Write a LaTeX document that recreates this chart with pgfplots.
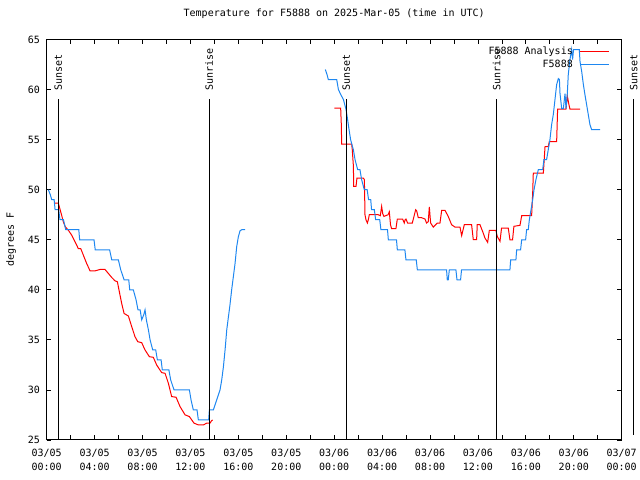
\documentclass[border=0pt]{standalone}
\usepackage{fontspec}
\setmainfont{DejaVu Sans Mono}
\usepackage{pgfplots}
\pgfplotsset{compat=1.18}
\definecolor{obsblue}{RGB}{30,135,240}
\definecolor{anared}{RGB}{255,0,0}
\begin{document}
\begin{tikzpicture}
\path[use as bounding box] (-46.7bp,-40bp) rectangle (593.3bp,440bp);
\begin{axis}[
  at={(0,0)}, anchor=south west,
  scale only axis, width=575bp, height=400.5bp,
  xmin=0, xmax=48, ymin=25, ymax=65,
  clip=false,
  unbounded coords=jump,
  xtick={0,4,...,48},
  minor xtick={2,6,...,46},
  ytick={25,30,...,65},
  xticklabels={{03/05\\00:00},{03/05\\04:00},{03/05\\08:00},{03/05\\12:00},{03/05\\16:00},{03/05\\20:00},{03/06\\00:00},{03/06\\04:00},{03/06\\08:00},{03/06\\12:00},{03/06\\16:00},{03/06\\20:00},{03/07\\00:00}},
  tick align=inside,
  major tick length=4.5bp, minor tick length=4.5bp,
  every tick/.style={black, line width=0.8bp},
  axis line style={black, line width=1bp},
  font=\fontsize{10bp}{13.5bp}\selectfont,
  /pgf/number format/assume math mode=true,
  xticklabel style={align=center, yshift=-6bp, font=\fontsize{10bp}{13.5bp}\selectfont},
  yticklabel style={xshift=-3.3bp, font=\fontsize{10bp}{13.5bp}\selectfont},
  title={Temperature for F5888 on 2025-Mar-05 (time in UTC)},
  title style={at={(axis description cs:0.5,1)}, anchor=center, yshift=19.5bp, inner sep=0pt, font=\fontsize{10bp}{12bp}\selectfont},
  ylabel={degrees F},
  ylabel style={at={(axis description cs:-0.062,0.5)}, anchor=center, inner sep=0pt, font=\fontsize{10bp}{12bp}\selectfont},
  legend style={at={(axis description cs:1,1)}, anchor=north east, xshift=-11.7bp, yshift=-7.3bp,
    draw=none, fill=none, inner sep=0pt, row sep=3bp, column sep=7bp,
    nodes={inner sep=0pt, text height=7.5bp, text depth=2.5bp},
    font=\fontsize{10bp}{12bp}\selectfont},
  legend cell align=right,
  legend plot pos=right,
  legend image code/.code={\draw[#1] (0bp,0bp) -- (29bp,0bp);},
]
\addplot[anared, line width=1bp] coordinates {
(0.70,48.67) (0.97,48.67) (1.06,48.27) (1.25,47.44) (1.39,46.78) (1.56,46.28) (1.81,45.95) (2.09,45.45) (2.37,44.78) (2.64,44.12) (2.84,44.12) (3.06,43.46) (3.34,42.62) (3.62,41.89) (4.03,41.89) (4.45,42.03) (4.87,42.03) (5.15,41.63) (5.43,41.23) (5.70,40.90) (5.90,40.80) (6.12,39.47) (6.26,38.64) (6.46,37.64) (6.82,37.38) (7.10,36.31) (7.37,35.32) (7.60,34.82) (7.93,34.72) (8.21,33.99) (8.57,33.32) (8.90,33.26) (9.18,32.49) (9.60,31.73) (9.88,31.66) (10.16,30.66) (10.43,29.34) (10.80,29.27) (11.13,28.34) (11.55,27.51) (11.91,27.34) (12.30,26.68) (12.66,26.51) (13.08,26.51) (13.36,26.68) (13.63,26.68) (13.77,26.94) (13.86,27.0)
(20,nan)
(24.01,58.14) (24.54,58.14) (24.60,56.31) (24.62,54.55) (25.46,54.55) (25.51,53.98) (25.60,52.39) (25.63,50.33) (25.82,50.33) (25.90,51.16) (26.43,51.16) (26.52,51.0) (26.57,47.5) (26.65,47.0) (26.77,46.67) (26.85,47.0) (26.93,47.5) (27.68,47.5) (27.85,47.4) (27.96,48.33) (28.05,47.6) (28.15,47.33) (28.50,47.5) (28.60,47.8) (28.70,46.5) (28.79,46.1) (29.15,46.1) (29.27,47.07) (29.71,47.07) (29.85,46.67) (29.92,47.0) (29.99,47.07) (30.13,46.67) (30.52,46.67) (30.66,47.33) (30.80,48.0) (30.88,47.9) (31.02,47.2) (31.30,47.2) (31.58,47.07) (31.71,46.67) (31.85,46.8) (31.94,48.27) (32.05,46.67) (32.27,46.27) (32.61,46.67) (32.83,46.67) (32.97,47.93) (33.25,47.93) (33.52,47.33) (33.80,46.5) (34.08,46.27) (34.50,46.27) (34.64,45.41) (34.86,46.5) (35.47,46.5) (35.61,45.01) (35.89,45.01) (35.94,46.5) (36.17,46.5) (36.44,45.67) (36.58,45.18) (36.81,44.74) (36.95,45.94) (37.50,45.94) (37.61,45.34) (37.84,44.84) (37.97,46.17) (38.53,46.17) (38.67,45.0) (38.89,45.0) (39.00,46.34) (39.51,46.44) (39.65,47.40) (40.48,47.40) (40.57,49.67) (40.62,51.66) (41.46,51.66) (41.60,54.31) (41.87,54.31) (41.96,54.81) (42.57,54.81) (42.65,58.04) (43.35,58.04) (43.46,59.37) (43.57,58.64) (43.68,58.04) (44.52,58.04)
};
\addlegendentry{F5888 Analysis}
\addplot[obsblue, line width=1bp] coordinates {
(0.14,50) (0.30,49.5) (0.42,49) (0.62,49) (0.70,48) (1.00,48) (1.11,47) (1.40,47) (1.59,46) (2.68,46) (2.75,45) (3.95,45) (4.05,44) (5.25,44) (5.43,43) (5.98,43) (6.18,42) (6.46,41) (6.85,41) (6.93,40) (7.23,40) (7.46,39) (7.62,38) (7.80,38) (7.93,37) (8.10,37.5) (8.21,38) (8.32,37) (8.49,36) (8.63,35) (8.85,34) (9.10,34) (9.24,33) (9.55,33) (9.65,32) (10.20,32) (10.35,31) (10.63,30) (11.91,30) (12.05,29) (12.24,28) (12.55,28) (12.66,27) (13.52,27) (13.58,28) (13.91,28) (14.19,29) (14.47,30) (14.61,31) (14.75,32.3) (14.89,34) (15.03,36) (15.17,37.3) (15.30,38.5) (15.44,40) (15.58,41.3) (15.72,42.6) (15.86,44.3) (16.00,45.3) (16.14,45.9) (16.28,46) (16.56,46)
(20,nan)
(23.26,62) (23.40,61.5) (23.51,61) (24.21,61) (24.35,60) (24.55,59.5) (24.77,59) (24.99,58) (25.12,57) (25.24,56) (25.37,55) (25.48,54.5) (25.60,54) (25.74,53) (25.96,52) (26.15,52) (26.29,51) (26.51,50) (26.75,50) (26.87,49) (27.05,49) (27.12,48) (27.35,48) (27.46,47) (27.80,47) (27.90,46) (28.45,46) (28.52,45) (29.20,45) (29.27,44) (29.90,44) (29.99,43) (30.85,43) (30.94,42) (33.38,42) (33.44,41) (33.52,41) (33.61,42) (34.16,42) (34.25,41) (34.55,41) (34.63,42) (38.67,42) (38.73,43) (39.17,43) (39.23,44) (39.56,44) (39.65,45) (39.98,45) (40.06,46) (40.20,46) (40.29,47) (40.43,48) (40.57,49) (40.68,50) (40.84,51) (41.04,52) (41.40,52) (41.51,53) (41.73,53) (41.87,54) (42.01,55) (42.15,56.5) (42.29,57.5) (42.43,59) (42.57,60.5) (42.71,61.1) (42.80,61) (42.85,59.6) (42.99,58.1) (43.13,58.1) (43.27,59.6) (43.35,58.1) (43.46,59.6) (43.54,61.5) (43.68,63) (43.82,64) (43.90,63) (43.98,64) (44.46,64) (44.52,62.8) (44.66,61.8) (44.80,60.5) (44.93,59.5) (45.07,58.5) (45.21,57.5) (45.35,56.5) (45.49,56) (46.19,56)
};
\addlegendentry{F5888}
% sunrise / sunset markers
\addplot[black, line width=1bp, forget plot] coordinates {(0.97,25) (0.97,59.07) (0.97,nan) (13.57,25) (13.57,59.07) (13.57,nan) (25.00,25) (25.00,59.07) (25.00,nan) (37.56,25) (37.56,59.07) (37.56,nan) (49.0,25.5) (49.0,59.07)};
\node[rotate=90, anchor=west, inner sep=0pt, xshift=0.8bp, font=\fontsize{10bp}{12bp}\selectfont] at (axis cs:0.97,59.8) {Sunset};
\node[rotate=90, anchor=west, inner sep=0pt, xshift=0.8bp, font=\fontsize{10bp}{12bp}\selectfont] at (axis cs:13.57,59.8) {Sunrise};
\node[rotate=90, anchor=west, inner sep=0pt, xshift=0.8bp, font=\fontsize{10bp}{12bp}\selectfont] at (axis cs:25.00,59.8) {Sunset};
\node[rotate=90, anchor=west, inner sep=0pt, xshift=0.8bp, font=\fontsize{10bp}{12bp}\selectfont] at (axis cs:37.56,59.8) {Sunrise};
\node[rotate=90, anchor=west, inner sep=0pt, xshift=0.8bp, font=\fontsize{10bp}{12bp}\selectfont] at (axis cs:49.0,59.8) {Sunset};
\end{axis}
\end{tikzpicture}
\end{document}
